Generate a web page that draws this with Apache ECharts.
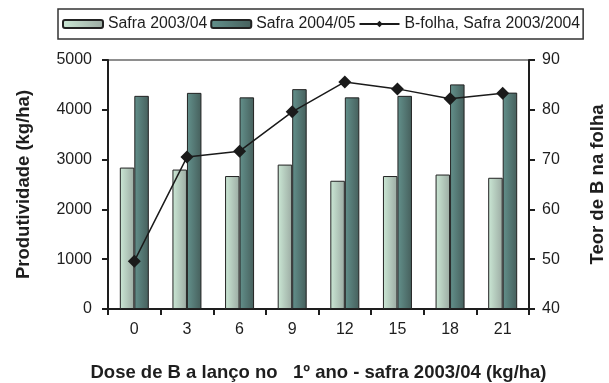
<!DOCTYPE html>
<html>
<head>
<meta charset="utf-8">
<script src="https://cdn.jsdelivr.net/npm/echarts@6/dist/echarts.min.js"></script>
<style>
  html, body { margin: 0; padding: 0; background: #ffffff; }
  #chart { width: 609px; height: 383px; }
</style>
</head>
<body>
<div id="chart"></div>
<script>
// Boron dose (kg/ha) applied broadcast in the first year
const doses = ['0', '3', '6', '9', '12', '15', '18', '21'];
// Yield (kg/ha) per season
const safra0304 = [2840, 2800, 2670, 2900, 2575, 2670, 2700, 2635];
const safra0405 = [4280, 4340, 4250, 4415, 4250, 4280, 4510, 4345];
// Leaf boron content, season 2003/2004
const bFolha = [49.6, 70.5, 71.7, 79.6, 85.6, 84.2, 82.2, 83.3];

const seriesNames = ['Safra 2003/04', 'Safra 2004/05', 'B-folha, Safra 2003/2004'];

const font = 'Liberation Sans, Arial, sans-serif';
const ink = '#1e1e1e';

function hGrad(c0, c1) {
  return new echarts.graphic.LinearGradient(0, 0, 1, 0, [
    { offset: 0, color: c0 },
    { offset: 1, color: c1 }
  ]);
}

const titleStyle = { fontFamily: font, fontSize: 18.5, fontWeight: 'bold', color: ink };
const plain = v => String(v);

const chart = echarts.init(document.getElementById('chart'), null, { renderer: 'canvas' });

chart.setOption({
  animation: false,
  backgroundColor: '#ffffff',
  textStyle: { fontFamily: font, color: ink },
  grid: {
    left: 108, right: 80, top: 60, bottom: 74,
    containLabel: false, outerBoundsMode: 'none',
    show: true, borderColor: ink, borderWidth: 1, backgroundColor: 'transparent'
  },
  legend: {
    left: 58, top: 9,
    data: seriesNames,
    itemWidth: 40, itemHeight: 8, itemGap: 3,
    padding: [7, 3, 7, 4],
    borderColor: '#333', borderWidth: 1.5,
    textStyle: { fontFamily: font, fontSize: 15.8, color: ink }
  },
  xAxis: {
    type: 'category',
    data: doses,
    name: 'Dose de B a lanço no   1º ano - safra 2003/04 (kg/ha)',
    nameLocation: 'middle',
    nameGap: 54,
    nameTextStyle: titleStyle,
    axisLine: { lineStyle: { color: ink, width: 2 } },
    axisTick: { show: true, alignWithLabel: false, length: 6, lineStyle: { color: ink, width: 2 } },
    axisLabel: { margin: 13, fontSize: 16, color: ink, fontFamily: font }
  },
  yAxis: [
    {
      type: 'value', min: 0, max: 5000, interval: 1000,
      name: 'Produtividade (kg/ha)',
      nameLocation: 'middle', nameGap: 75, nameRotate: 90,
      nameTextStyle: titleStyle,
      axisLine: { show: true, lineStyle: { color: ink, width: 2 } },
      axisTick: { show: true, length: 6, lineStyle: { color: ink, width: 2 } },
      axisLabel: { margin: 16, fontSize: 16, color: ink, fontFamily: font, formatter: plain },
      splitLine: { show: false }
    },
    {
      type: 'value', min: 40, max: 90, interval: 10, position: 'right',
      name: 'Teor de B na folha',
      nameLocation: 'middle', nameGap: 59, nameRotate: 90,
      nameTextStyle: titleStyle,
      axisLine: { show: true, lineStyle: { color: ink, width: 2 } },
      axisTick: { show: true, length: 6, lineStyle: { color: ink, width: 2 } },
      axisLabel: { margin: 13, fontSize: 16, color: ink, fontFamily: font, formatter: plain },
      splitLine: { show: false }
    }
  ],
  series: [
    {
      name: seriesNames[0], type: 'bar', data: safra0304,
      barWidth: 14.5, barGap: '0%',
      itemStyle: { color: hGrad('#cbe8d5', '#9caba3'), borderColor: '#222', borderWidth: 1 }
    },
    {
      name: seriesNames[1], type: 'bar', data: safra0405,
      barWidth: 14.5, barGap: '0%',
      itemStyle: { color: hGrad('#63918c', '#465f5c'), borderColor: '#222', borderWidth: 1 }
    },
    {
      name: seriesNames[2], type: 'line', yAxisIndex: 1, data: bFolha,
      symbol: 'diamond', symbolSize: 13,
      lineStyle: { color: '#1a1a1a', width: 1.5 },
      itemStyle: { color: '#1a1a1a' },
      z: 5
    }
  ]
});
</script>
</body>
</html>
